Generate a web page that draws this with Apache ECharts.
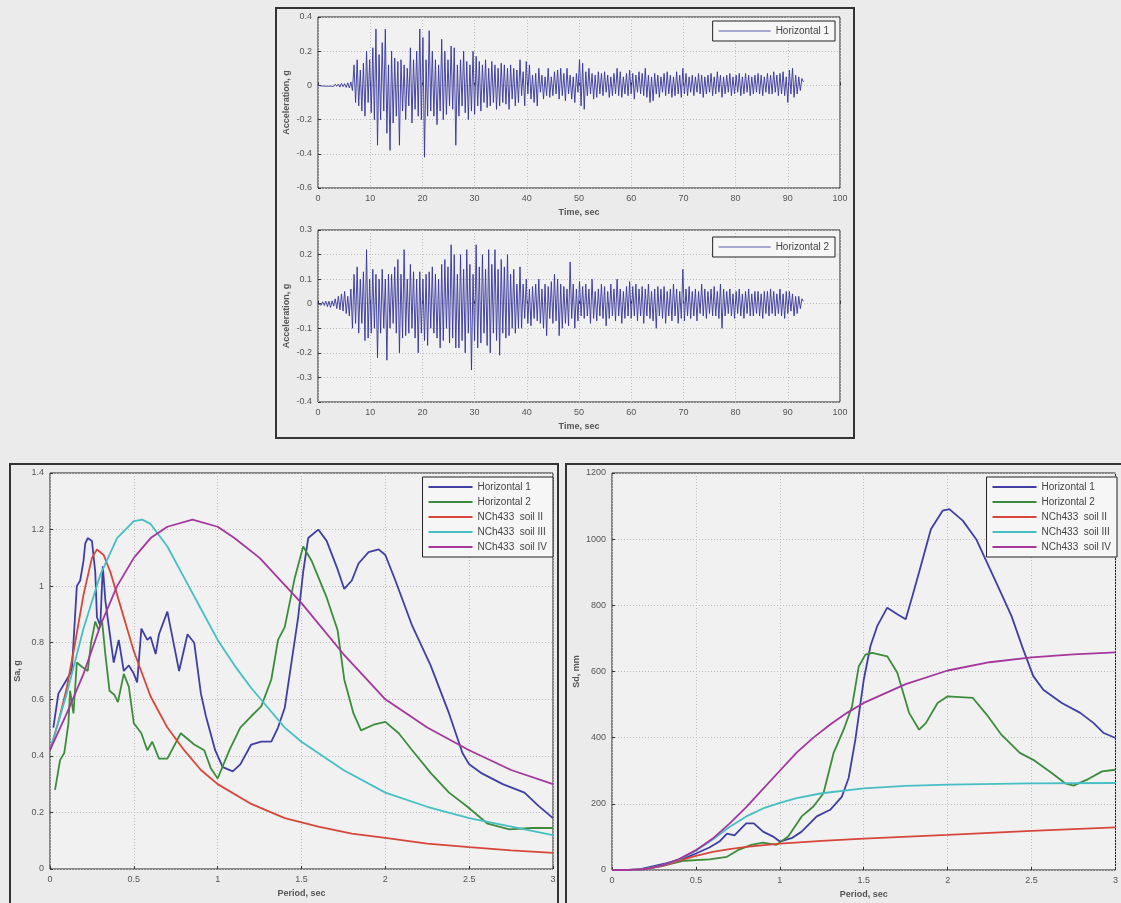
<!DOCTYPE html>
<html><head><meta charset="utf-8">
<script src="https://cdn.jsdelivr.net/npm/echarts@6/dist/echarts.min.js"></script>
<style>html,body{margin:0;padding:0;background:#ebebeb}#c{width:1121px;height:903px}</style>
</head><body><div id="c"></div>
<script>
// ---- Acceleration records (g), sampled every dt seconds ----
const dt = 0.3;
const accH1 = [
0,0.004,-0.003,0.005,-0.004,0.003,-0.005,0.006,-0.004,0.005,
-0.006,0.007,-0.005,0.008,-0.01,0.012,-0.008,0.01,-0.012,0.015,
-0.015,0.02,-0.03,0.12,-0.1,0.15,-0.12,0.09,-0.15,0.13,
-0.18,0.2,-0.1,0.15,-0.16,0.22,-0.2,0.33,-0.35,0.18,
-0.2,0.25,-0.15,0.33,-0.28,0.12,-0.38,0.2,-0.22,0.16,
-0.18,0.14,-0.35,0.15,-0.15,0.12,-0.2,0.1,-0.12,0.22,
-0.22,0.15,-0.14,0.2,-0.18,0.33,-0.2,0.28,-0.42,0.15,
-0.18,0.32,-0.15,0.2,-0.18,0.15,-0.23,0.12,-0.15,0.27,
-0.2,0.2,-0.17,0.15,-0.12,0.23,-0.14,0.22,-0.35,0.12,
-0.18,0.15,-0.12,0.2,-0.16,0.14,-0.2,0.12,-0.15,0.2,
-0.17,0.17,-0.12,0.14,-0.15,0.12,-0.1,0.15,-0.13,0.1,
-0.12,0.14,-0.1,0.12,-0.14,0.1,-0.12,0.13,-0.1,0.12,
-0.11,0.1,-0.14,0.12,-0.08,0.1,-0.12,0.09,-0.1,0.15,
-0.06,0.08,-0.12,0.14,-0.05,0.12,-0.08,0.06,-0.1,0.07,
-0.12,0.1,-0.04,0.06,-0.08,0.05,-0.06,0.1,-0.07,0.05,
-0.06,0.08,-0.05,0.09,-0.08,0.1,-0.06,0.07,-0.09,0.1,
-0.05,0.06,-0.08,0.05,-0.1,0.07,-0.04,0.15,-0.12,0.13,
-0.14,0.08,-0.06,0.1,-0.05,0.07,-0.08,0.06,-0.07,0.08,
-0.05,0.07,-0.06,0.08,-0.04,0.06,-0.07,0.05,-0.06,0.07,
-0.05,0.1,-0.06,0.08,-0.07,0.05,-0.05,0.07,-0.06,0.09,
-0.05,0.07,-0.08,0.06,-0.04,0.08,-0.05,0.07,-0.06,0.1,
-0.07,0.06,-0.1,0.05,-0.09,0.07,-0.05,0.06,-0.07,0.05,
-0.04,0.07,-0.06,0.08,-0.05,0.06,-0.07,0.05,-0.06,0.08,
-0.05,0.06,-0.07,0.1,-0.05,0.07,-0.06,0.05,-0.04,0.06,
-0.06,0.05,-0.04,0.07,-0.05,0.06,-0.07,0.05,-0.05,0.06,
-0.04,0.07,-0.06,0.05,-0.05,0.08,-0.04,0.06,-0.07,0.05,
-0.05,0.06,-0.04,0.07,-0.06,0.05,-0.05,0.06,-0.04,0.07,
-0.06,0.05,-0.05,0.07,-0.04,0.06,-0.06,0.05,-0.05,0.06,
-0.04,0.07,-0.05,0.06,-0.06,0.05,-0.04,0.07,-0.05,0.06,
-0.05,0.08,-0.04,0.06,-0.06,0.07,-0.05,0.08,-0.06,0.05,
-0.1,0.09,-0.05,0.1,-0.07,0.06,-0.05,0.05,-0.03,0.04,
0.02];
const accH2 = [
0,0.005,-0.006,0.008,-0.007,0.01,-0.012,0.01,-0.015,0.012,
-0.01,0.02,-0.02,0.03,-0.025,0.04,-0.03,0.05,-0.04,0.03,
-0.05,0.06,-0.1,0.12,-0.08,0.15,-0.12,0.1,-0.08,0.13,
-0.15,0.22,-0.14,0.1,-0.12,0.14,-0.1,0.12,-0.22,0.1,
-0.12,0.14,-0.1,0.1,-0.23,0.12,-0.1,0.12,-0.08,0.15,
-0.12,0.18,-0.2,0.12,-0.14,0.22,-0.13,0.1,-0.12,0.16,
-0.1,0.13,-0.14,0.1,-0.2,0.13,-0.12,0.1,-0.15,0.12,
-0.17,0.13,-0.1,0.15,-0.12,0.12,-0.14,0.1,-0.18,0.16,
-0.15,0.18,-0.1,0.15,-0.16,0.24,-0.14,0.2,-0.18,0.12,
-0.18,0.2,-0.15,0.14,-0.2,0.22,-0.12,0.16,-0.27,0.12,
-0.15,0.24,-0.18,0.15,-0.16,0.2,-0.12,0.14,-0.17,0.22,
-0.2,0.16,-0.12,0.22,-0.15,0.14,-0.21,0.18,-0.12,0.15,
-0.14,0.2,-0.13,0.12,-0.1,0.14,-0.12,0.08,-0.1,0.15,
-0.1,0.08,-0.06,0.1,-0.08,0.06,-0.09,0.07,-0.06,0.08,
-0.07,0.1,-0.08,0.06,-0.1,0.08,-0.13,0.07,-0.06,0.09,
-0.08,0.12,-0.07,0.1,-0.13,0.08,-0.1,0.07,-0.08,0.06,
-0.09,0.17,-0.06,0.08,-0.1,0.06,-0.07,0.09,-0.05,0.07,
-0.06,0.08,-0.05,0.06,-0.08,0.1,-0.06,0.05,-0.07,0.06,
-0.05,0.08,-0.06,0.07,-0.09,0.05,-0.06,0.08,-0.05,0.06,
-0.07,0.1,-0.05,0.06,-0.08,0.05,-0.06,0.07,-0.05,0.09,
-0.06,0.07,-0.05,0.08,-0.07,0.06,-0.05,0.07,-0.08,0.06,
-0.05,0.08,-0.06,0.05,-0.07,0.06,-0.1,0.07,-0.05,0.06,
-0.06,0.07,-0.08,0.05,-0.05,0.06,-0.07,0.08,-0.05,0.06,
-0.08,0.05,-0.06,0.14,-0.07,0.06,-0.05,0.07,-0.06,0.05,
-0.05,0.06,-0.07,0.05,-0.04,0.08,-0.05,0.06,-0.06,0.05,
-0.04,0.06,-0.05,0.07,-0.05,0.05,-0.06,0.08,-0.1,0.06,
-0.05,0.05,-0.04,0.06,-0.05,0.04,-0.06,0.05,-0.04,0.06,
-0.05,0.04,-0.06,0.05,-0.04,0.06,-0.05,0.04,-0.05,0.05,
-0.04,0.05,-0.05,0.04,-0.06,0.05,-0.04,0.05,-0.05,0.06,
-0.04,0.05,-0.05,0.04,-0.04,0.06,-0.05,0.04,-0.06,0.05,
-0.04,0.05,-0.03,0.04,-0.05,0.03,-0.04,0.03,-0.02,0.02,
0.01];

// ---- Pseudo-acceleration spectra Sa (g) vs period (s) ----
const saH1 = [[0.02,0.5],[0.05,0.62],[0.1,0.67],[0.13,0.7],[0.16,1.0],[0.18,1.02],[0.2,1.09],[0.21,1.15],[0.225,1.17],[0.25,1.16],[0.27,1.05],[0.28,0.89],[0.3,0.86],[0.315,1.07],[0.33,0.95],[0.35,0.86],[0.38,0.73],[0.41,0.81],[0.44,0.7],[0.47,0.72],[0.5,0.69],[0.52,0.66],[0.545,0.85],[0.58,0.81],[0.6,0.82],[0.63,0.76],[0.65,0.83],[0.7,0.91],[0.73,0.82],[0.77,0.7],[0.82,0.83],[0.86,0.8],[0.9,0.62],[0.93,0.54],[0.985,0.42],[1.03,0.36],[1.09,0.345],[1.135,0.37],[1.2,0.44],[1.26,0.45],[1.32,0.45],[1.36,0.5],[1.4,0.57],[1.43,0.69],[1.48,0.89],[1.51,1.05],[1.54,1.17],[1.6,1.2],[1.65,1.16],[1.715,1.06],[1.755,0.99],[1.8,1.02],[1.84,1.08],[1.9,1.12],[1.96,1.13],[2.0,1.11],[2.06,1.02],[2.16,0.86],[2.27,0.72],[2.38,0.55],[2.46,0.41],[2.5,0.37],[2.57,0.34],[2.7,0.3],[2.83,0.27],[2.91,0.225],[3.0,0.18]];
const saH2 = [[0.03,0.28],[0.06,0.385],[0.085,0.41],[0.11,0.515],[0.12,0.63],[0.14,0.55],[0.16,0.73],[0.19,0.715],[0.225,0.7],[0.245,0.8],[0.27,0.875],[0.29,0.845],[0.31,0.88],[0.33,0.76],[0.355,0.63],[0.385,0.615],[0.405,0.59],[0.44,0.69],[0.47,0.645],[0.5,0.515],[0.545,0.48],[0.58,0.42],[0.61,0.45],[0.65,0.39],[0.7,0.39],[0.78,0.48],[0.86,0.44],[0.92,0.42],[0.96,0.355],[1.0,0.32],[1.07,0.42],[1.135,0.5],[1.2,0.54],[1.26,0.575],[1.32,0.67],[1.36,0.81],[1.4,0.855],[1.46,1.03],[1.51,1.14],[1.56,1.09],[1.65,0.96],[1.715,0.845],[1.755,0.67],[1.81,0.55],[1.855,0.49],[1.93,0.51],[2.0,0.52],[2.08,0.48],[2.16,0.42],[2.27,0.34],[2.38,0.27],[2.49,0.22],[2.61,0.16],[2.74,0.14],[2.87,0.145],[3.0,0.145]];
const saSoil2 = [[0,0.42],[0.05,0.52],[0.1,0.64],[0.15,0.8],[0.2,0.97],[0.25,1.1],[0.28,1.13],[0.32,1.11],[0.36,1.05],[0.4,0.97],[0.45,0.87],[0.5,0.77],[0.6,0.61],[0.7,0.5],[0.8,0.42],[0.9,0.35],[1.0,0.3],[1.2,0.23],[1.4,0.18],[1.6,0.15],[1.8,0.125],[2.0,0.11],[2.25,0.09],[2.5,0.077],[2.75,0.066],[3.0,0.057]];
const saSoil3 = [[0,0.42],[0.1,0.62],[0.2,0.85],[0.3,1.04],[0.4,1.17],[0.5,1.23],[0.55,1.235],[0.6,1.22],[0.7,1.14],[0.8,1.03],[0.9,0.92],[1.0,0.81],[1.1,0.72],[1.2,0.64],[1.3,0.57],[1.4,0.5],[1.5,0.45],[1.75,0.35],[2.0,0.27],[2.25,0.22],[2.5,0.18],[2.75,0.15],[3.0,0.12]];
const saSoil4 = [[0,0.42],[0.1,0.55],[0.2,0.69],[0.3,0.86],[0.4,1.0],[0.5,1.1],[0.6,1.17],[0.7,1.21],[0.85,1.235],[1.0,1.21],[1.1,1.17],[1.25,1.1],[1.5,0.94],[1.75,0.76],[2.0,0.6],[2.25,0.5],[2.5,0.42],[2.75,0.35],[3.0,0.3]];

// ---- Displacement spectra Sd (mm) vs period (s) ----
const sdH1 = [[0.15,0],[0.32,20],[0.43,35],[0.5,50],[0.58,68],[0.64,86],[0.685,110],[0.73,105],[0.77,126],[0.8,141],[0.845,141],[0.9,116],[0.96,101],[1.0,86],[1.07,96],[1.13,116],[1.22,162],[1.3,182],[1.37,222],[1.41,278],[1.45,394],[1.5,575],[1.54,677],[1.58,737],[1.64,793],[1.7,773],[1.75,758],[1.79,828],[1.84,919],[1.9,1030],[1.97,1086],[2.01,1091],[2.09,1056],[2.17,1000],[2.28,879],[2.38,768],[2.45,667],[2.51,586],[2.57,545],[2.68,505],[2.79,475],[2.87,444],[2.93,414],[3.0,399]];
const sdH2 = [[0.15,0],[0.32,15],[0.43,28],[0.58,32],[0.685,40],[0.75,60],[0.83,76],[0.9,83],[0.98,76],[1.05,101],[1.13,162],[1.2,192],[1.26,232],[1.32,353],[1.38,424],[1.43,494],[1.47,615],[1.51,651],[1.55,656],[1.64,646],[1.7,596],[1.77,475],[1.83,424],[1.87,444],[1.94,505],[2.0,525],[2.15,520],[2.24,465],[2.32,409],[2.43,354],[2.51,333],[2.62,293],[2.7,262],[2.75,255],[2.83,273],[2.92,298],[3.0,303]];
const sdSoil2 = [[0,0],[0.1,0],[0.2,3],[0.3,12],[0.4,28],[0.5,43],[0.6,55],[0.7,63],[0.8,70],[1.0,80],[1.25,88],[1.5,95],[2.0,106],[2.5,118],[3.0,129]];
const sdSoil3 = [[0,0],[0.1,0],[0.2,3],[0.3,14],[0.4,32],[0.5,58],[0.6,92],[0.7,130],[0.8,162],[0.9,186],[1.0,203],[1.1,217],[1.25,232],[1.5,247],[1.75,254],[2.0,258],[2.5,262],[3.0,263]];
const sdSoil4 = [[0,0],[0.1,0],[0.2,3],[0.3,14],[0.4,33],[0.5,60],[0.6,95],[0.7,140],[0.8,190],[0.9,245],[1.0,300],[1.1,355],[1.2,400],[1.3,440],[1.4,475],[1.5,505],[1.75,562],[2.0,603],[2.25,628],[2.5,643],[2.75,652],[3.0,658]];

const names = ['Horizontal 1','Horizontal 2','NCh433  soil II','NCh433  soil III','NCh433  soil IV'];
const colors = ['#3f3fa3','#3d8c3d','#d6463a','#45bfc4','#a3379c'];

const font = 'Liberation Sans, Arial, sans-serif';
const tickLbl = {fontSize: 9, color: '#555', fontFamily: font, margin: 6, formatter: v => String(v)};
const nameStyle = {fontSize: 9, color: '#555', fontFamily: font, fontWeight: 'bold'};
const split = {show: true, lineStyle: {color: '#bdbdbd', type: [1, 2], width: 1}};

function ax(idx, min, max, interval, name, gap) {
  return {gridIndex: idx, type: 'value', min, max, interval, name, nameLocation: 'middle', nameGap: gap,
    nameTextStyle: nameStyle, axisLabel: tickLbl, splitLine: split,
    axisLine: {show: false}, axisTick: {inside: true, length: 3, lineStyle: {color: '#333'}}};
}
const gridBase = {show: true, borderColor: '#222', borderWidth: 1, backgroundColor: '#f1f1f1', containLabel: false};

const accSeries = (name, arr, x) => ({
  name, type: 'line', xAxisIndex: x, yAxisIndex: x, showSymbol: false, symbol: 'none', animation: false,
  lineStyle: {color: '#34349a', width: 0.9}, data: arr.map((v, i) => [+(i * dt).toFixed(2), v])
});
const specSeries = (k, arr, x) => ({
  name: names[k], type: 'line', xAxisIndex: x, yAxisIndex: x, showSymbol: false, symbol: 'none', animation: false,
  lineStyle: {color: colors[k], width: 1.8}, itemStyle: {color: colors[k]}, data: arr
});

const legendBase = {orient: 'vertical', borderColor: '#222', borderWidth: 1, backgroundColor: '#f6f6f6',
  padding: [4, 6], itemGap: 3, itemWidth: 44, itemHeight: 2, icon: 'rect', selectedMode: false,
  textStyle: {fontSize: 10, color: '#444', fontFamily: font, lineHeight: 12}};
const specLegendData = names.map((n, k) => ({name: n, itemStyle: {color: colors[k]}}));

const chart = echarts.init(document.getElementById('c'), null, {renderer: 'canvas'});
chart.setOption({
  backgroundColor: '#ebebeb',
  animation: false,
  graphic: [
    {type: 'rect', shape: {x: 276, y: 8, width: 578, height: 430}, style: {fill: 'none', stroke: '#333', lineWidth: 2}, z: -1},
    {type: 'rect', shape: {x: 10, y: 464, width: 548, height: 445}, style: {fill: 'none', stroke: '#333', lineWidth: 2}, z: -1},
    {type: 'rect', shape: {x: 566, y: 464, width: 560, height: 445}, style: {fill: 'none', stroke: '#333', lineWidth: 2}, z: -1}
  ],
  grid: [
    Object.assign({left: 318, right: 281, top: 17, height: 171}, gridBase),
    Object.assign({left: 318, right: 281, top: 230, height: 172}, gridBase),
    Object.assign({left: 50, width: 503, top: 473, height: 396}, gridBase),
    Object.assign({left: 612, width: 505, top: 473, height: 397}, gridBase)
  ],
  xAxis: [
    ax(0, 0, 100, 10, 'Time, sec', 20),
    ax(1, 0, 100, 10, 'Time, sec', 20),
    ax(2, 0, 3, 0.5, 'Period, sec', 20),
    ax(3, 0, 3, 0.5, 'Period, sec', 20)
  ],
  yAxis: [
    ax(0, -0.6, 0.4, 0.2, 'Acceleration, g', 27),
    ax(1, -0.4, 0.3, 0.1, 'Acceleration, g', 27),
    ax(2, 0, 1.4, 0.2, 'Sa, g', 28),
    ax(3, 0, 1200, 200, 'Sd, mm', 31)
  ],
  legend: [
    Object.assign({}, legendBase, {right: 286, top: 21, itemWidth: 52, itemHeight: 1, padding: [4, 6],
      data: [{name: 'Horizontal 1', itemStyle: {color: '#5a5aa8'}}]}),
    Object.assign({}, legendBase, {right: 286, top: 237, itemWidth: 52, itemHeight: 1, padding: [4, 6],
      data: [{name: 'Horizontal 2', itemStyle: {color: '#5a5aa8'}}]}),
    Object.assign({}, legendBase, {right: 568, top: 477, data: specLegendData}),
    Object.assign({}, legendBase, {right: 4, top: 477, data: specLegendData})
  ],
  series: [
    accSeries('Horizontal 1', accH1, 0),
    accSeries('Horizontal 2', accH2, 1),
    specSeries(0, saH1, 2), specSeries(1, saH2, 2), specSeries(2, saSoil2, 2), specSeries(3, saSoil3, 2), specSeries(4, saSoil4, 2),
    specSeries(0, sdH1, 3), specSeries(1, sdH2, 3), specSeries(2, sdSoil2, 3), specSeries(3, sdSoil3, 3), specSeries(4, sdSoil4, 3)
  ]
});
</script></body></html>
